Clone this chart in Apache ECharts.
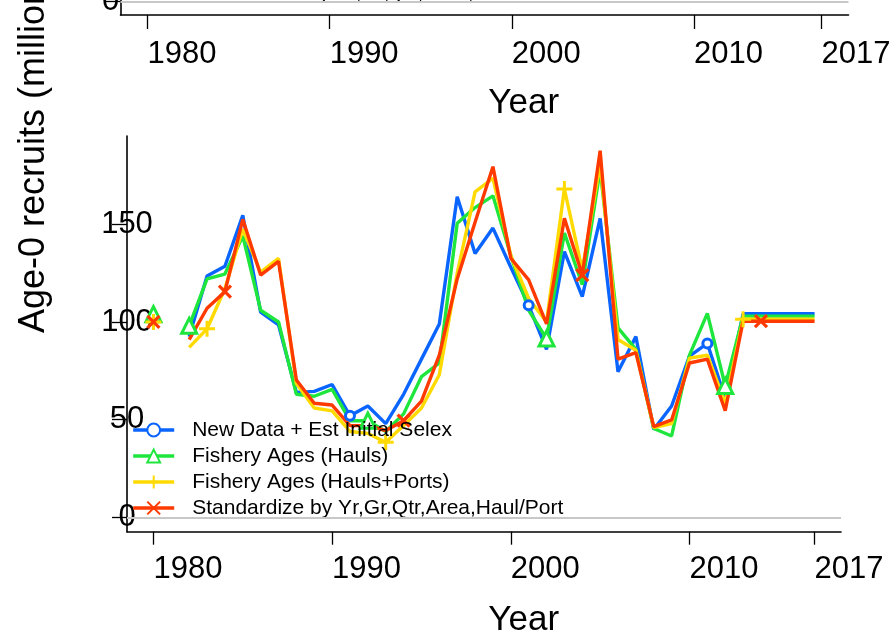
<!DOCTYPE html>
<html>
<head>
<meta charset="utf-8">
<script src="https://cdn.jsdelivr.net/npm/echarts@6/dist/echarts.min.js"></script>
<style>
  html, body { margin: 0; padding: 0; background: #fff; }
  #chart { width: 896px; height: 634px; }
</style>
</head>
<body>
<div id="chart"></div>
<script>
// Recruitment estimates (millions of age-0 fish) by model run
const years = [1980, 1981, 1982, 1983, 1984, 1985, 1986, 1987, 1988, 1989,
  1990, 1991, 1992, 1993, 1994, 1995, 1996, 1997, 1998, 1999,
  2000, 2001, 2002, 2003, 2004, 2005, 2006, 2007, 2008, 2009,
  2010, 2011, 2012, 2013, 2014, 2015, 2016, 2017];

const newDataEstSelex = [102, null, 92.5, 123.5, 128.5, 154.5, 105, 98.5, 64, 64.5,
  68, 52, 57, 48, 63, 81, 99, 164, 135, 148,
  128, 108.5, 86, 136, 113, 153, 74.5, 92.5, 45, 57,
  82.5, 89, 61, 104.2, 104.2, 104.2, 104.2, 104.2];

const fisheryHauls = [104, null, 98, 122, 124.5, 144, 106, 100, 63, 62,
  65.5, 49.5, 49.5, 44, 53, 72, 79, 150.5, 158.5, 164.5,
  134, 106, 91.5, 145.5, 119, 178, 97, 86, 45.5, 41.7,
  83, 104.4, 67.3, 103, 103, 103, 103, 103];

const fisheryHaulsPorts = [100, null, 87, 96.5, 117, 147.5, 125.5, 132.5, 68.5, 56,
  54.5, 44, 43, 38.5, 47, 56, 73, 125, 166.5, 173.5,
  134, 112, 100, 168, 126.5, 181, 91, 85.5, 46, 48,
  81.5, 83, 58.5, 101.4, 101.4, 101.4, 101.4, 101.4];

const standardized = [100, null, 91, 107, 115.5, 152.5, 124, 131, 70.3, 58.4,
  57.5, 47, 47, 44.5, 49.5, 59.5, 83, 122, 151, 179.4,
  132.6, 121.5, 99, 153, 124, 187.6, 81, 84.3, 46.5, 49.9,
  79, 81, 54.6, 100.4, 100.4, 100.4, 100.4, 100.4];

const seriesNames = [
  'New Data + Est Initial Selex',
  'Fishery Ages (Hauls)',
  'Fishery Ages (Hauls+Ports)',
  'Standardize by Yr,Gr,Qtr,Area,Haul/Port'
];

// years that carry a point symbol on each line
const blueMarks = [1980, 1981, 1991, 2001, 2011];
const greenMarks = [1980, 1982, 1992, 2002, 2012];
const yellowMarks = [1980, 1983, 1993, 2003, 2013];
const redMarks = [1980, 1984, 1994, 2004, 2014];

const xTicks = [1980, 1990, 2000, 2010, 2017];
const yTicks = [0, 50, 100, 150];
const yTicksUpper = [0];

const FONT = 'Liberation Sans';
const colors = ['#0A64FF', '#1EE63C', '#FFDA00', '#FF3A00'];
const PLUS = 'path://M0,5L10,5M5,0L5,10';
const CROSS = 'path://M0,0L10,10M0,10L10,0';

function buildData(values, marks) {
  return years.map((y, i) => {
    const item = { value: [y, values[i]] };
    if (marks.indexOf(y) < 0) item.symbol = 'none';
    return item;
  });
}

// open symbols get a white fill and a coloured outline
function lineSeries(name, values, marks, color, symbol, size, bw, fill) {
  return {
    name: name,
    type: 'line',
    xAxisIndex: 0,
    yAxisIndex: 0,
    data: buildData(values, marks),
    symbol: symbol,
    symbolSize: size,
    showSymbol: true,
    showAllSymbol: true,
    connectNulls: false,
    animation: false,
    lineStyle: { color: color, width: 3.4 },
    itemStyle: { color: fill || color, borderColor: color, borderWidth: bw },
    emphasis: { disabled: true }
  };
}

const axisText = { fontFamily: FONT, fontSize: 31, color: '#000' };

const chart = echarts.init(document.getElementById('chart'), null, { renderer: 'canvas' });

const blue = lineSeries(seriesNames[0], newDataEstSelex, blueMarks, colors[0], 'circle', 9, 3, '#fff');
blue.markLine = {
  silent: true,
  symbol: 'none',
  label: { show: false },
  lineStyle: { color: '#c8c8c8', width: 2, type: 'solid' },
  data: [{ yAxis: 0 }]
};

const option = {
  animation: false,
  backgroundColor: '#fff',
  grid: [
    { left: 127, right: 55, top: 136, bottom: 102.3, outerBoundsMode: 'none', containLabel: false },
    { left: 120.5, right: 47.5, top: 0, bottom: 619, outerBoundsMode: 'none', containLabel: false }
  ],
  xAxis: [
    {
      gridIndex: 0, type: 'value', min: 1978.52, max: 2018.48,
      axisLine: { show: true, onZero: false, lineStyle: { color: '#000', width: 1.6 } },
      axisTick: { show: true, customValues: xTicks, length: 13, lineStyle: { color: '#000', width: 1.3 } },
      axisLabel: Object.assign({ customValues: xTicks, align: 'left', verticalAlign: 'middle', margin: 38,
        formatter: v => String(v) }, axisText),
      splitLine: { show: false }
    },
    {
      gridIndex: 1, type: 'value', min: 1978.52, max: 2018.48,
      axisLine: { show: true, onZero: false, lineStyle: { color: '#000', width: 1.6 } },
      axisTick: { show: true, customValues: xTicks, length: 14, lineStyle: { color: '#000', width: 1.3 } },
      axisLabel: Object.assign({ customValues: xTicks, align: 'left', verticalAlign: 'middle', margin: 39,
        formatter: v => String(v) }, axisText),
      splitLine: { show: false }
    }
  ],
  yAxis: [
    {
      gridIndex: 0, type: 'value', min: -7.26, max: 195.1,
      axisLine: { show: true, onZero: false, lineStyle: { color: '#000', width: 1.6 } },
      axisTick: { show: true, customValues: yTicks, length: 15, lineStyle: { color: '#000', width: 1.3 } },
      axisLabel: Object.assign({ customValues: yTicks, align: 'center', verticalAlign: 'middle', margin: 0,
        padding: [6, 0, 0, 0], formatter: v => String(v) }, axisText),
      splitLine: { show: false }
    },
    {
      gridIndex: 1, type: 'value', min: -7.26, max: 0.81,
      axisLine: { show: true, onZero: false, lineStyle: { color: '#000', width: 1.6 } },
      axisTick: { show: true, customValues: yTicksUpper, length: 15, lineStyle: { color: '#000', width: 1.3 } },
      axisLabel: Object.assign({ customValues: yTicksUpper, align: 'center', verticalAlign: 'middle', margin: 10,
        padding: [4, 0, 0, 0], formatter: v => String(v) }, axisText),
      splitLine: { show: false }
    }
  ],
  legend: {
    data: seriesNames,
    orient: 'vertical',
    left: 131.5,
    top: 417.5,
    padding: 0,
    itemWidth: 41,
    itemHeight: 16,
    itemGap: 1,
    selectedMode: false,
    lineStyle: { width: 3.4 },
    textStyle: { fontFamily: FONT, fontSize: 21, color: '#000', lineHeight: 21, padding: [4, 0, 0, 13] }
  },
  series: [
    blue,
    lineSeries(seriesNames[1], fisheryHauls, greenMarks, colors[1], 'triangle', 15, 3, '#fff'),
    lineSeries(seriesNames[2], fisheryHaulsPorts, yellowMarks, colors[2], PLUS, 16, 3),
    lineSeries(seriesNames[3], standardized, redMarks, colors[3], CROSS, 12, 3.2),
    {
      type: 'line',
      xAxisIndex: 1,
      yAxisIndex: 1,
      data: [],
      silent: true,
      markLine: {
        silent: true,
        symbol: 'none',
        label: { show: false },
        lineStyle: { color: '#c8c8c8', width: 2, type: 'solid' },
        data: [{ yAxis: 0 }]
      }
    }
  ],
  graphic: [
    {
      type: 'text', x: 34, y: 333, rotation: Math.PI / 2, silent: true,
      style: { text: 'Age-0 recruits (millions)', font: '36px "' + FONT + '"', fill: '#000',
        align: 'left', verticalAlign: 'middle' }
    },
    {
      type: 'text', x: 523.7, y: 103.5, silent: true,
      style: { text: 'Year', font: '35px "' + FONT + '"', fill: '#000', align: 'center', verticalAlign: 'middle' }
    },
    {
      type: 'text', x: 523.7, y: 620, silent: true,
      style: { text: 'Year', font: '35px "' + FONT + '"', fill: '#000', align: 'center', verticalAlign: 'middle' }
    },
    {
      type: 'text', x: 190, y: -6.8, silent: true,
      style: { text: seriesNames[3], font: '21px "' + FONT + '"', fill: '#000', align: 'left', verticalAlign: 'middle' }
    }
  ]
};

chart.setOption(option);
</script>
</body>
</html>
